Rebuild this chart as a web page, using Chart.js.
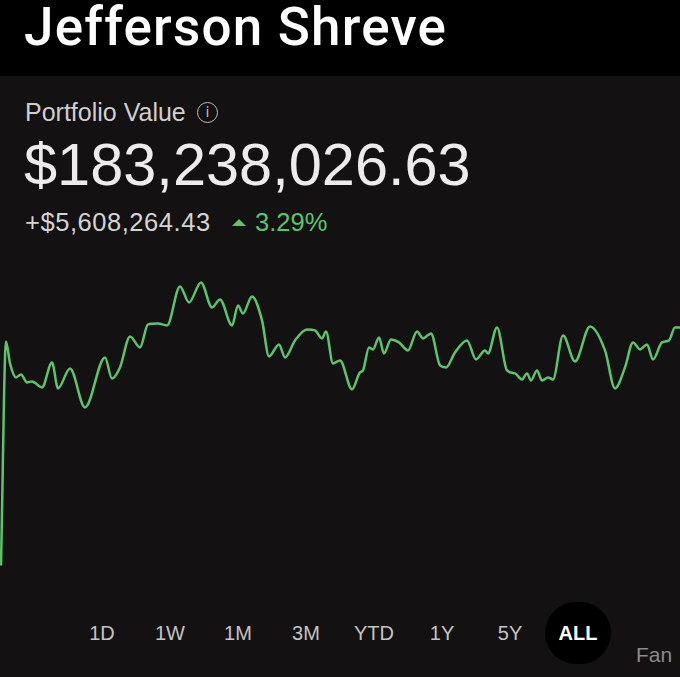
<!DOCTYPE html>
<html>
<head>
<meta charset="utf-8">
<script src="https://cdn.jsdelivr.net/npm/chart.js@4.4.1/dist/chart.umd.min.js"></script>
<style>
  html, body { margin: 0; padding: 0; }
  body {
    width: 680px; height: 677px; overflow: hidden; position: relative;
    background: #131111; font-family: "Liberation Sans", Arial, sans-serif;
  }
  #topo {
    position: absolute; left: 0; top: 0; width: 680px; height: 76px; background: #000;
  }
  #nome {
    position: absolute; left: 24px; top: -4px; color: #fff;
    font-family: Roboto, sans-serif; font-weight: 500; font-size: 53px; letter-spacing: 1.2px;
  }
  #rotulo {
    position: absolute; left: 25px; top: 98px; color: #cfcfcf; font-size: 25px;
  }
  #info {
    position: absolute; left: 197px; top: 102px; width: 19px; height: 19px;
    border: 1.8px solid #bdbdbd; border-radius: 50%; color: #bdbdbd;
    font-size: 14px; line-height: 19px; text-align: center; font-family: "DejaVu Sans", sans-serif;
  }
  #valor {
    position: absolute; left: 24px; top: 130px; color: #ececec; font-size: 59.5px;
  }
  #ganho {
    position: absolute; left: 25px; top: 208px; color: #d4d4d4; font-size: 25.5px; letter-spacing: 0.55px;
  }
  #seta {
    position: absolute; left: 232px; top: 219px; width: 0; height: 0;
    border-left: 7px solid transparent; border-right: 7px solid transparent;
    border-bottom: 7px solid #5cc46c;
  }
  #pct {
    position: absolute; left: 255px; top: 208px; color: #5cc46c; font-size: 25.5px;
  }
  #area { position: absolute; left: 0; top: 250px; width: 680px; height: 350px; }
  .botao {
    position: absolute; top: 622px; width: 60px; margin-left: -30px; text-align: center;
    color: #c4c4c4; font-size: 20px;
  }
  #ativo {
    position: absolute; left: 545px; top: 602px; width: 66px; height: 62px;
    border-radius: 31px; background: #000;
  }
  .botao.sel { color: #fff; font-weight: bold; }
  #fan { position: absolute; left: 636px; top: 643px; color: #8a8a8a; font-size: 21px; }
</style>
</head>
<body>
<div id="topo"><div id="nome">Jefferson Shreve</div></div>
<div id="rotulo">Portfolio Value</div>
<div id="info">i</div>
<div id="valor">$183,238,026.63</div>
<div id="ganho">+$5,608,264.43</div>
<div id="seta"></div>
<div id="pct">3.29%</div>
<div id="area"><canvas id="grafico"></canvas></div>
<div id="ativo"></div>
<div id="botoes"></div>
<div id="fan">Fan</div>

<script>
// dias desde a abertura da conta (eixo x)
const dias = [2, 12, 20, 32, 42, 54, 64, 84, 104, 116,
  140, 170, 210, 224, 240, 260, 280, 296, 316, 334,
  360, 378, 402, 424, 440, 464, 476, 486, 504, 524,
  538, 558, 570, 590, 614, 630, 644, 652, 666, 680,
  704, 720, 726, 738, 746, 758, 768, 782, 798, 816,
  834, 846, 862, 880, 892, 910, 934, 952, 970, 976,
  994, 1014, 1030, 1044, 1054, 1062, 1074, 1084, 1096, 1106,
  1126, 1150, 1180, 1210, 1230, 1250, 1266, 1280, 1294, 1306,
  1324, 1338, 1350, 1360];

// valor da carteira em milhoes de dolares
const valores = [159.4, 181.8, 179.6, 178.2, 178.5, 177.7, 177.8, 177.2, 179.7, 177.1,
  179.1, 175.2, 180.2, 178.1, 179.2, 182.3, 181.2, 183.5, 183.6, 183.4,
  187.3, 185.7, 187.7, 185.2, 186.0, 183.4, 185.4, 184.6, 186.3, 183.9,
  180.3, 181.5, 180.2, 181.9, 183.0, 182.9, 182.1, 182.8, 179.6, 179.9,
  177.0, 178.7, 178.9, 181.2, 181.0, 182.2, 180.6, 182.0, 181.7, 180.9,
  182.8, 182.1, 182.6, 179.4, 179.2, 180.7, 181.9, 180.0, 180.9, 180.6,
  183.2, 178.9, 178.6, 178.0, 178.6, 177.9, 178.9, 177.9, 178.2, 178.0,
  182.4, 179.8, 183.3, 180.9, 177.1, 179.2, 181.7, 181.0, 181.5, 180.0,
  181.7, 181.9, 183.2, 183.2];

const periodos = ["1D", "1W", "1M", "3M", "YTD", "1Y", "5Y", "ALL"];

// botoes de periodo
const botoes = document.getElementById('botoes');
periodos.forEach((p, i) => {
  const b = document.createElement('div');
  b.className = 'botao' + (p === 'ALL' ? ' sel' : '');
  b.style.left = (102 + i * 68) + 'px';
  b.textContent = p;
  botoes.appendChild(b);
});

const pontos = dias.map((d, i) => ({ x: d, y: valores[i] }));

const ctx = document.getElementById('grafico').getContext('2d');
new Chart(ctx, {
  type: 'line',
  data: {
    datasets: [{
      data: pontos,
      borderColor: '#5cc46c',
      borderWidth: 2.5,
      pointRadius: 0,
      tension: 0.4,
      cubicInterpolationMode: 'monotone',
      fill: false
    }]
  },
  options: {
    responsive: true,
    maintainAspectRatio: false,
    animation: false,
    clip: false,
    layout: { padding: 0 },
    plugins: {
      legend: { display: false },
      tooltip: { enabled: false }
    },
    scales: {
      x: { type: 'linear', min: 0, max: 1360, display: false },
      y: { min: 155.94, max: 190.94, display: false }
    }
  }
});
</script>
</body>
</html>
